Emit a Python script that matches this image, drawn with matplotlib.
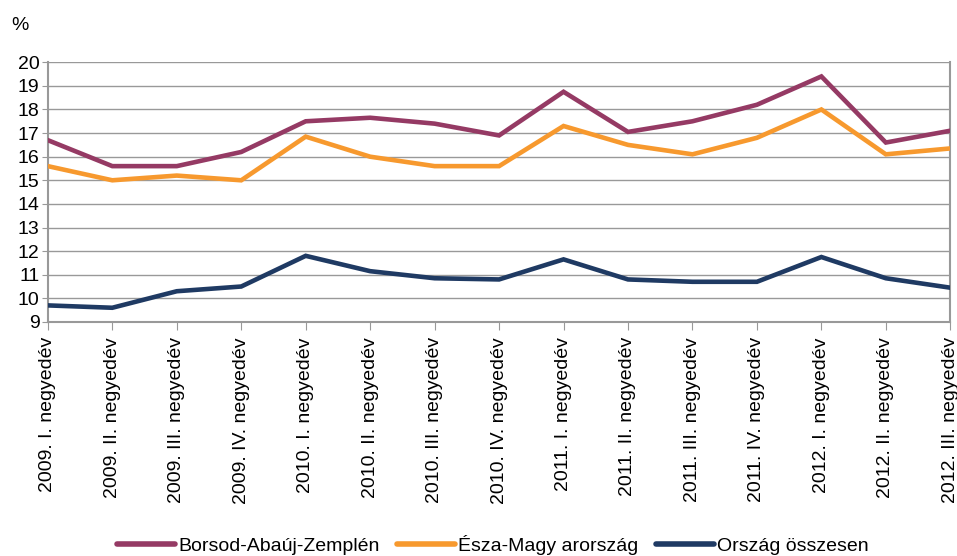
import matplotlib
matplotlib.use("Agg")
import matplotlib.pyplot as plt
from matplotlib import font_manager

names = {f.name for f in font_manager.fontManager.ttflist}
fam = "Liberation Sans Narrow" if "Liberation Sans Narrow" in names else "Liberation Sans"
plt.rcParams['font.family'] = [fam, 'DejaVu Sans']

categories = ["2009. I. negyedév", "2009. II. negyedév", "2009. III. negyedév", "2009. IV. negyedév",
              "2010. I. negyedév", "2010. II. negyedév", "2010. III. negyedév", "2010. IV. negyedév",
              "2011. I. negyedév", "2011. II. negyedév", "2011. III. negyedév", "2011. IV. negyedév",
              "2012. I. negyedév", "2012. II. negyedév", "2012. III. negyedév"]
borsod = [16.7, 15.6, 15.6, 16.2, 17.5, 17.65, 17.4, 16.9, 18.75, 17.05, 17.5, 18.2, 19.4, 16.6, 17.1]
eszak = [15.6, 15.0, 15.2, 15.0, 16.85, 16.0, 15.6, 15.6, 17.3, 16.5, 16.1, 16.8, 18.0, 16.1, 16.35]
orszag = [9.7, 9.6, 10.3, 10.5, 11.8, 11.15, 10.85, 10.8, 11.65, 10.8, 10.7, 10.7, 11.75, 10.85, 10.45]
series_names = ["Borsod-Abaúj-Zemplén", "Észa-Magy arország", "Ország összesen"]
colors = ["#953A64", "#F7992E", "#1F3A63"]
yticks = list(range(9, 21))

fig = plt.figure(figsize=(9.57, 5.56), dpi=100)
ax = fig.add_axes([0.050, 0.421, 0.943, 0.467])
x = list(range(len(categories)))
for vals, name, c in zip([borsod, eszak, orszag], series_names, colors):
    ax.plot(x, vals, color=c, lw=3.3, label=name, solid_joinstyle='miter', zorder=3)

ax.set_xlim(0, len(categories) - 1)
ax.set_ylim(9, 20)
ax.set_yticks(yticks)
ax.set_xticks(x)
ax.set_xticklabels(categories, rotation=90, fontsize=14)
ax.tick_params(axis='y', labelsize=14, length=4, color='#999999', pad=2)
ax.tick_params(axis='x', length=6, color='#999999', pad=5)
ax.grid(axis='y', color='#999999', lw=1)
ax.set_axisbelow(True)
for s in ['left', 'right', 'bottom']:
    ax.spines[s].set_color('#999999')
    ax.spines[s].set_linewidth(1.5)
ax.spines['top'].set_visible(False)

fig.text(0.012, 0.955, "%", fontsize=14, ha='left', va='center')

leg = fig.legend(loc='lower center', bbox_to_anchor=(0.515, -0.03), ncol=3, frameon=False,
                 fontsize=14, handlelength=3.0, handletextpad=0.15, columnspacing=0.9)
for h in leg.legend_handles:
    h.set_solid_capstyle('round')
    h.set_linewidth(4)

fig.savefig("out.png", dpi=100)
